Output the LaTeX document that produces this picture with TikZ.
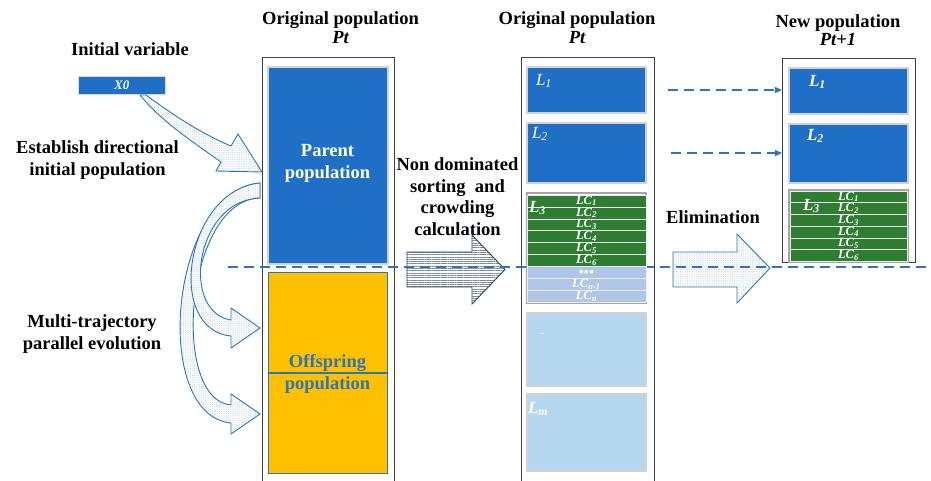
\documentclass[tikz,border=0pt]{standalone}
\usepackage{fontspec}
\setmainfont{Liberation Serif}
\usetikzlibrary{patterns,patterns.meta,arrows.meta}
\definecolor{mblue}{HTML}{1F6FC6}
\definecolor{lblue}{HTML}{2E75B6}
\definecolor{mgreen}{HTML}{2E7D32}
\definecolor{pale}{HTML}{B4D6EE}
\definecolor{lav}{HTML}{AFC6E9}
\definecolor{gold}{HTML}{FFC000}
\definecolor{framec}{HTML}{404040}
\definecolor{dotc}{HTML}{A9C2D6}
\definecolor{stripec}{HTML}{7D8A99}
\newcommand\bigtxt{\fontsize{18.5}{22}\selectfont\bfseries}
\begin{document}
\begin{tikzpicture}[x=1pt,y=-1pt,
  txt/.style={inner sep=0pt,outer sep=0pt,font=\bigtxt,anchor=base},
  frameb/.style={draw=framec,line width=0.9pt,fill=white,inner sep=0pt,outer sep=0pt,anchor=north west},
  box/.style={draw=gray!35,line width=1.2pt,inner sep=0pt,outer sep=0pt,anchor=north west},
  ybox/.style={draw=lblue,line width=1pt,fill=gold,inner sep=0pt,outer sep=0pt,anchor=north west,minimum width=119pt,minimum height=100pt},
  rowbox/.style={draw=white!85!gray,line width=0.6pt,inner sep=0pt,outer sep=0pt,anchor=north west,minimum height=11.9pt,font=\fontsize{12.5}{12.5}\selectfont\bfseries\itshape,text=white},
  grp/.style={draw=gray!70,line width=1.3pt,inner sep=0pt,outer sep=0pt,anchor=north west},
  lab/.style={inner sep=0pt,outer sep=0pt,anchor=base west,text=white,font=\fontsize{17}{17}\selectfont\itshape},
  blabel/.style={lab,font=\fontsize{17}{17}\selectfont\bfseries\itshape},
  dotarrow/.style={draw=lblue,line width=0.9pt,preaction={fill=white},pattern={Dots[distance=1.8pt,radius=0.4pt]},pattern color=dotc},
  linearrow/.style={draw=lblue!60!black,line width=0.9pt,preaction={fill=white},pattern={Lines[distance=2.3pt,line width=0.8pt]},pattern color=stripec},
  dline/.style={draw=lblue,line width=1.4pt,dash pattern=on 10pt off 6pt},
  darrow/.style={dline,-{Triangle[length=7pt,width=6pt]}}
]
\useasboundingbox (0,0) rectangle (931,480);

% ---- left texts
\node[txt] (tIV) at (130,55) {Initial variable};
\node[txt] (tE1) at (97.5,153) {Establish directional};
\node[txt] (tE2) at (97.5,175) {initial population};
\node[txt] (tM1) at (92,327) {Multi-trajectory};
\node[txt] (tM2) at (92,349) {parallel evolution};
\node[fill=mblue,draw=gray!30,line width=0.6pt,minimum width=87pt,minimum height=18pt,inner sep=0pt,anchor=north west,text=white,font=\fontsize{13}{13}\selectfont\bfseries\itshape] (x0) at (78,76) {X0};

% ---- titles
\node[txt] (tO1) at (340.5,24.5) {Original population};
\node[txt] (tO1b) at (340.5,43.5) {\itshape Pt};
\node[txt] (tO2) at (577,24) {Original population};
\node[txt] (tO2b) at (577,43) {\itshape Pt};
\node[txt] (tN1) at (838,27) {New population};
\node[txt] (tN1b) at (838,45.5) {\itshape Pt+1};
\node[txt] (tND1) at (457.5,170) {Non dominated};
\node[txt] (tND2) at (457.5,192) {sorting~ and};
\node[txt] (tND3) at (457.5,213.5) {crowding};
\node[txt] (tND4) at (457.5,235) {calculation};
\node[txt] (tEl) at (713,223) {Elimination};

% ---- block arrows
\draw[linearrow] (407,252) -- (472,252) -- (472,235) -- (505,269.5) -- (472,304) -- (472,287) -- (407,287) -- cycle;
\draw[dotarrow] (673,252) -- (737,252) -- (737,234) -- (770,268) -- (737,303) -- (737,287) -- (673,287) -- cycle;

% ---- containers
\node[frameb,minimum width=132pt,minimum height=440pt] (lc) at (262,57) {};
\node[frameb,minimum width=133pt,minimum height=440pt] (mc) at (521,57) {};
\node[frameb,minimum width=133pt,minimum height=204pt] (rc) at (782,58) {};

% ---- dashed main line
\coordinate (dl0) at (228,267);
\coordinate (dl1) at (935,267);
\draw[dline] (dl0) -- (dl1);

% ---- left column
\node[box,fill=mblue,minimum width=120pt,minimum height=197pt] (par) at (268,67) {};
\node[txt,text=white] (tP1) at (327.5,156) {Parent};
\node[txt,text=white] (tP2) at (327.5,178) {population};
\node[ybox] (off1) at (268,272) {};
\node[ybox] (off2) at (268,373) {};
\node[txt,text=lblue] (tOf1) at (327.5,367) {Offspring};
\node[txt,text=lblue] (tOf2) at (327.5,389) {population};

% ---- middle column
\node[box,fill=mblue,minimum width=119pt,minimum height=46pt] (mL1) at (527,67) {};
\node[box,fill=mblue,minimum width=119pt,minimum height=60pt] (mL2) at (527,123) {};
\node[grp,minimum width=119pt,minimum height=110pt] (mG) at (527,193) {};
\foreach \i/\t/\c in {0/LC\textsubscript{1}/mgreen,1/LC\textsubscript{2}/mgreen,2/LC\textsubscript{3}/mgreen,3/LC\textsubscript{4}/mgreen,4/LC\textsubscript{5}/mgreen,5/LC\textsubscript{6}/mgreen,6/{\fontsize{9}{9}\selectfont$\bullet\!\bullet\!\bullet$}/lav,7/LC\textsubscript{n-1}/lav,8/LC\textsubscript{n}/lav}
  \node[rowbox,fill=\c,minimum width=119pt] (mr\i) at (527,{195+11.9*\i}) {\t};
\node[box,fill=pale,minimum width=119pt,minimum height=73pt] (mdots) at (527,313) {};
\node[box,fill=pale,minimum width=119pt,minimum height=77pt] (mLm) at (527,394) {};
\node[lab] (lmL1) at (536,85) {L\textsubscript{1}};
\node[lab] (lmL2) at (532,138) {L\textsubscript{2}};
\node[blabel,text=white!90!green] (lmL3) at (529,212) {L\textsubscript{3}};
\node[lab,font=\fontsize{9}{9}\selectfont] (lmd) at (538,334) {...};
\node[blabel] (lmLm) at (528,413) {L\textsubscript{m}};

% ---- right column
\node[box,fill=mblue,minimum width=119pt,minimum height=46pt] (nL1) at (789,68) {};
\node[box,fill=mblue,minimum width=119pt,minimum height=59pt] (nL2) at (789,124) {};
\node[grp,minimum width=119pt,minimum height=72pt] (nG) at (789,190) {};
\foreach \i in {1,...,6}
  \node[rowbox,fill=mgreen,minimum width=117pt,minimum height=11.7pt] (nr\i) at (790,{191+11.7*(\i-1)}) {LC\textsubscript{\i}};
\node[blabel] (lnL1) at (809,86) {L\textsubscript{1}};
\node[blabel] (lnL2) at (807,140) {L\textsubscript{2}};
\node[blabel] (lnL3) at (803,210) {L\textsubscript{3}};

% ---- dashed arrows
\coordinate (a1) at (668,90);
\coordinate (a2) at (671,153);
\draw[darrow] (a1) -- (a1 -| rc.west);
\draw[darrow] (a2) -- (a2 -| rc.west);

% ---- X0 to parent arrow
\draw[dotarrow] (146,95) .. controls (180,120) and (205,135) .. (231,146) -- (238,134) -- (262,172) -- (216,171) -- (221,162) .. controls (190,140) and (160,120) .. (140,95) -- cycle;

% ---- multi-trajectory arrows
\draw[dotarrow] (260,183) .. controls (170,190) and (150,415) .. (231,423) -- (231,434) -- (260,414) -- (231,394) -- (231,405) .. controls (170,400) and (185,200) .. (260,198) -- cycle;
\draw[dotarrow] (260,183) .. controls (185,190) and (165,330) .. (231,336) -- (231,348) -- (260,328) -- (231,308) -- (231,320) .. controls (180,312) and (195,200) .. (260,198) -- cycle;
\end{tikzpicture}
\end{document}
